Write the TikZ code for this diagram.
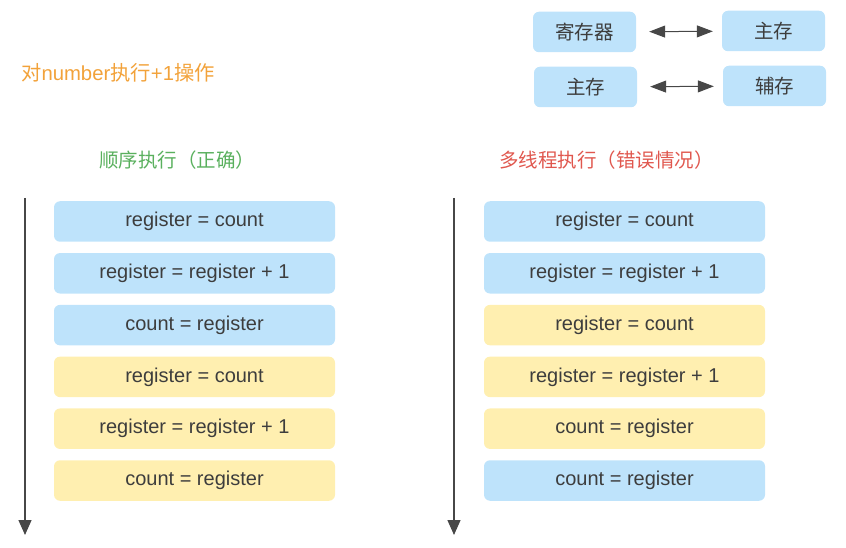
\documentclass[tikz,border=0pt]{standalone}
\usepackage{fontspec}
\setmainfont{Liberation Sans}
\newfontfamily\cjk{Noto Sans CJK SC}
\usepackage{xcolor}
\usepackage{tikz}
\usetikzlibrary{shapes,arrows.meta,positioning}

\definecolor{boxblue}{HTML}{BEE3FB}
\definecolor{boxyellow}{HTML}{FFEFB0}
\definecolor{txtgray}{HTML}{3D3D3D}
\definecolor{lineg}{HTML}{474747}
\definecolor{titleorange}{HTML}{F2A23A}
\definecolor{titlegreen}{HTML}{5AB05E}
\definecolor{titlered}{HTML}{E0574E}

\tikzset{
  op/.style={rectangle, rounded corners=6pt, minimum width=281pt, minimum height=40.5pt,
    inner sep=0pt, text=txtgray, font=\fontsize{20}{20}\selectfont},
  opblue/.style={op, fill=boxblue},
  opyellow/.style={op, fill=boxyellow},
  mem/.style={rectangle, rounded corners=6pt, minimum width=103pt, minimum height=40.5pt,
    inner sep=0pt, fill=boxblue, text=txtgray, font=\fontsize{19.5}{19.5}\selectfont\cjk},
  headline/.style={anchor=west, inner sep=0pt, font=\fontsize{19.5}{19.5}\selectfont\cjk},
  timeline/.style={lineg, line width=1.4pt, -{Triangle[width=13pt,length=15pt]}},
  link/.style={lineg, line width=1pt, {Triangle[width=12pt,length=16pt]}-{Triangle[width=12pt,length=16pt]},
    shorten <=13pt, shorten >=9pt}
}

\begin{document}
\begin{tikzpicture}[x=1pt, y=-1pt, node distance=10.9pt]
\useasboundingbox (0,0) rectangle (846,548);

% memory levels
\node[mem] (reg) at (584.5,32) {寄存器};
\node[mem] (main1) at (773.5,31) {主存};
\node[mem] (main2) at (585.5,87) {主存};
\node[mem] (disk) at (774.5,86) {辅存};
\draw[link] (reg) -- (main1);
\draw[link] (main2) -- (disk);

% titles
\node[headline, text=titleorange, font=\fontsize{20.3}{20.3}\selectfont\cjk] (task) at (21,73) {对{\fontspec{Liberation Sans}number}执行{\fontspec{Liberation Sans}+1}操作};
\node[headline, text=titlegreen] (seq) at (99,160) {顺序执行（正确）};
\node[headline, text=titlered] (multi) at (499,160) {多线程执行（错误情况）};

% sequential execution
\node[opblue] (s1) at (194.5,221.5) {register = count};
\node[opblue, below=of s1] (s2) {register = register + 1};
\node[opblue, below=of s2] (s3) {count = register};
\node[opyellow, below=of s3] (s4) {register = count};
\node[opyellow, below=of s4] (s5) {register = register + 1};
\node[opyellow, below=of s5] (s6) {count = register};
\coordinate (ltop) at (25,198);
\coordinate (lend) at (25,535);
\draw[timeline] (ltop) -- (lend);

% multithreaded execution
\node[opblue] (m1) at (624.5,221.5) {register = count};
\node[opblue, below=of m1] (m2) {register = register + 1};
\node[opyellow, below=of m2] (m3) {register = count};
\node[opyellow, below=of m3] (m4) {register = register + 1};
\node[opyellow, below=of m4] (m5) {count = register};
\node[opblue, below=of m5] (m6) {count = register};
\coordinate (rtop) at (454,198);
\coordinate (rend) at (454,535);
\draw[timeline] (rtop) -- (rend);
\end{tikzpicture}
\end{document}
